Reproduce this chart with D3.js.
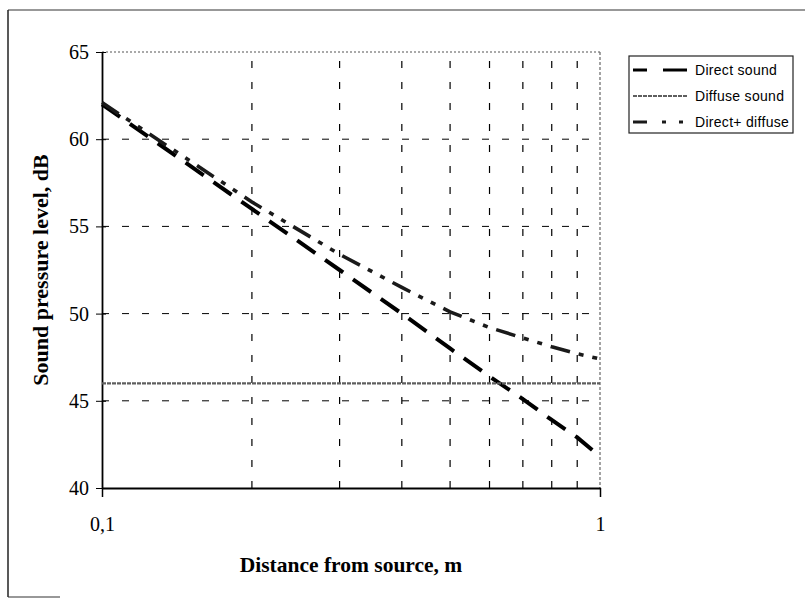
<!DOCTYPE html>
<html>
<head>
<meta charset="utf-8">
<script src="https://cdn.jsdelivr.net/npm/d3@7"></script>
<style>
  html, body { margin: 0; padding: 0; background: #fff; }
  svg { display: block; }
</style>
</head>
<body>
<svg id="chart" width="805" height="598"></svg>
<script>
// Sample distances (m) and sound pressure levels (dB)
const distances   = [0.1, 0.2, 0.3, 0.4, 0.5, 0.6, 0.7, 0.8, 0.9, 1.0];
const directSound = [62.0, 56.0, 52.5, 50.0, 48.0, 46.4, 45.1, 43.9, 42.9, 41.8];
const diffuseSound = [46.0, 46.0, 46.0, 46.0, 46.0, 46.0, 46.0, 46.0, 46.0, 46.0];
const directPlusDiffuse = [62.1, 56.4, 53.4, 51.5, 50.1, 49.2, 48.6, 48.1, 47.7, 47.4];

const seriesNames = ["Direct sound", "Diffuse sound", "Direct+ diffuse"];
const yTicks = [40, 45, 50, 55, 60, 65];
const xGridValues = [0.2, 0.3, 0.4, 0.5, 0.6, 0.7, 0.8, 0.9];
const xTickLabels = ["0,1", "1"];
const xTickValues = [0.1, 1];

const svg = d3.select("#chart");
const plot = { left: 102, right: 600, top: 52, bottom: 488 };

const x = d3.scaleLog().domain([0.1, 1]).range([plot.left, plot.right]);
const y = d3.scaleLinear().domain([40, 65]).range([plot.bottom, plot.top]);

const serif = "'Liberation Serif', 'Times New Roman', serif";

// Outer frame of the chart area
svg.append("line").attr("x1", 8).attr("y1", 10).attr("x2", 805).attr("y2", 10)
  .attr("stroke", "#333").attr("stroke-width", 1.2);
svg.append("line").attr("x1", 8).attr("y1", 10).attr("x2", 8).attr("y2", 597)
  .attr("stroke", "#222").attr("stroke-width", 1.5);
svg.append("line").attr("x1", 8).attr("y1", 597).attr("x2", 60).attr("y2", 597)
  .attr("stroke", "#333").attr("stroke-width", 1.2);

// Horizontal dashed gridlines
svg.append("g").selectAll("line")
  .data(yTicks.filter(v => v > 40 && v < 65))
  .join("line")
  .attr("x1", plot.left).attr("x2", plot.right)
  .attr("y1", d => y(d)).attr("y2", d => y(d))
  .attr("stroke", "#000").attr("stroke-width", 1)
  .attr("stroke-dasharray", "7,13");

// Vertical dashed gridlines
svg.append("g").selectAll("line")
  .data(xGridValues)
  .join("line")
  .attr("x1", d => x(d)).attr("x2", d => x(d))
  .attr("y1", plot.bottom).attr("y2", plot.top)
  .attr("stroke", "#000").attr("stroke-width", 1.2)
  .attr("stroke-dasharray", "7,14");

// Top and right plot borders (dotted, light)
svg.append("line").attr("x1", plot.left).attr("x2", plot.right)
  .attr("y1", plot.top).attr("y2", plot.top)
  .attr("stroke", "#555").attr("stroke-width", 1.2).attr("stroke-dasharray", "2,2");
svg.append("line").attr("x1", plot.right).attr("x2", plot.right)
  .attr("y1", plot.top).attr("y2", plot.bottom)
  .attr("stroke", "#666").attr("stroke-width", 1.2).attr("stroke-dasharray", "3,2");

// Y axis
const yAxis = d3.axisLeft(y).tickValues(yTicks).tickSize(6).tickSizeOuter(0).tickPadding(7);
const gy = svg.append("g").attr("transform", `translate(${plot.left},0)`).call(yAxis);
gy.select(".domain").attr("stroke", "#000").attr("stroke-width", 1.8);
gy.selectAll(".tick line").attr("x2", -6).attr("x1", 4).attr("stroke", "#000");
gy.selectAll(".tick text")
  .attr("font-family", serif).attr("font-size", 20).attr("fill", "#000");

// X axis
const xAxis = d3.axisBottom(x).tickValues(xTickValues)
  .tickFormat((d, i) => xTickLabels[i]).tickSize(9).tickSizeOuter(0).tickPadding(20);
const gx = svg.append("g").attr("transform", `translate(0,${plot.bottom})`).call(xAxis);
gx.select(".domain").attr("stroke", "#000").attr("stroke-width", 1.8);
gx.selectAll(".tick line").attr("stroke", "#000").attr("stroke-width", 1.5);
gx.selectAll(".tick text")
  .attr("font-family", serif).attr("font-size", 20).attr("fill", "#000");

// Axis titles
svg.append("text")
  .attr("x", (plot.left + plot.right) / 2).attr("y", 572)
  .attr("text-anchor", "middle")
  .attr("font-family", serif)
  .attr("font-weight", "bold").attr("font-size", 21.5)
  .text("Distance from source, m");

svg.append("text")
  .attr("transform", `translate(48,${(plot.top + plot.bottom) / 2}) rotate(-90)`)
  .attr("text-anchor", "middle")
  .attr("font-family", serif)
  .attr("font-weight", "bold").attr("font-size", 22)
  .text("Sound pressure level, dB");

// Series lines
const lineGen = vals => d3.line()
  .x((d, i) => x(distances[i]))
  .y(d => y(d))(vals);

const styles = [
  { vals: directSound, stroke: "#000", width: 4, dash: "22,12" },
  { vals: diffuseSound, stroke: "#5e5e5e", width: 2.4, dash: "4,1" },
  { vals: directPlusDiffuse, stroke: "#1a1a1a", width: 3.6, dash: "20,9,5,9,5,9" }
];

svg.append("g").selectAll("path")
  .data(styles)
  .join("path")
  .attr("d", d => lineGen(d.vals))
  .attr("fill", "none")
  .attr("stroke", d => d.stroke)
  .attr("stroke-width", d => d.width)
  .attr("stroke-dasharray", d => d.dash);

// Legend
const legend = svg.append("g");
legend.append("rect")
  .attr("x", 629).attr("y", 56).attr("width", 164).attr("height", 77)
  .attr("fill", "#fff").attr("stroke", "#222").attr("stroke-width", 1.2);

const legendY = [70, 96, 122];
const legendDash = ["14,16,24", "4,1", "14,15,4,13,4"];
seriesNames.forEach((name, i) => {
  legend.append("line")
    .attr("x1", 633).attr("x2", 688)
    .attr("y1", legendY[i]).attr("y2", legendY[i])
    .attr("stroke", styles[i].stroke)
    .attr("stroke-width", i === 1 ? 2 : 3)
    .attr("stroke-dasharray", legendDash[i]);
  legend.append("text")
    .attr("x", 695).attr("y", legendY[i] + 5)
    .attr("font-family", "'Liberation Sans', Arial, sans-serif")
    .attr("font-size", 14).attr("letter-spacing", 0.3).attr("fill", "#000")
    .text(name);
});
</script>
</body>
</html>
